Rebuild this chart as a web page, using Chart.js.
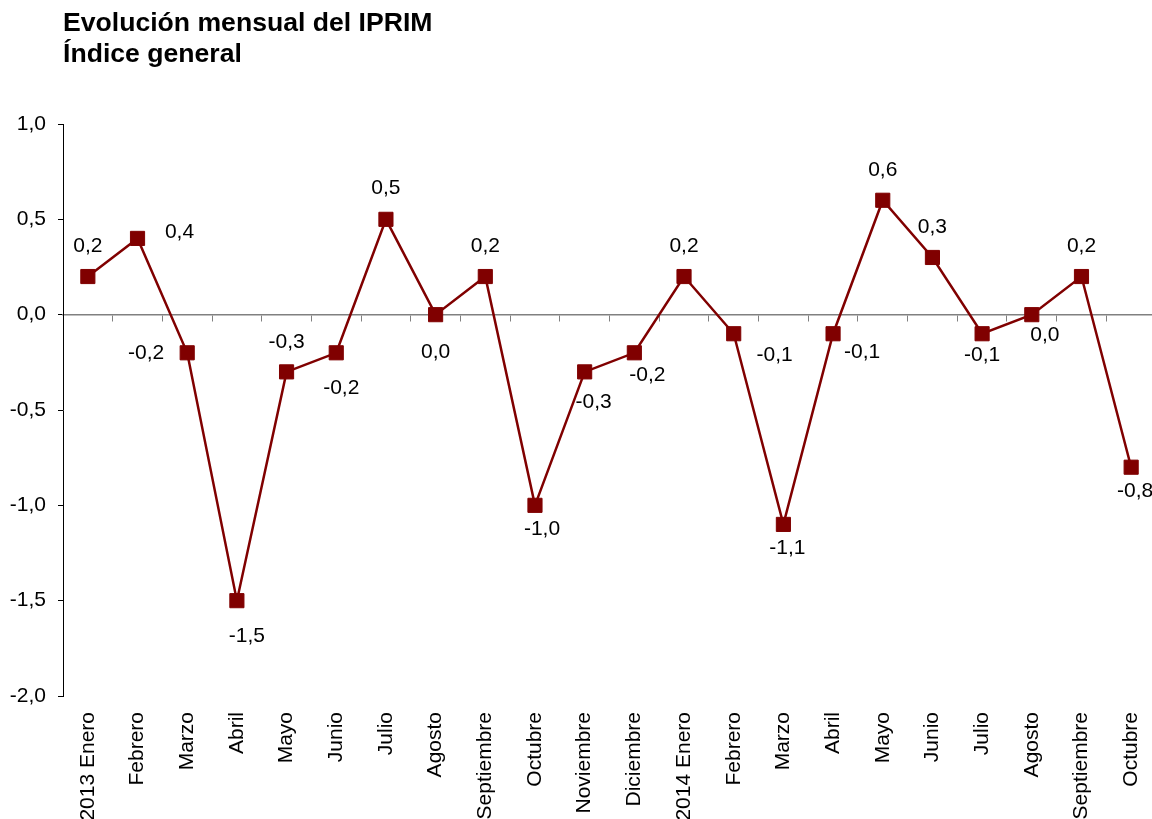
<!DOCTYPE html>
<html>
<head>
<meta charset="utf-8">
<script src="https://cdn.jsdelivr.net/npm/chart.js@4.4.0/dist/chart.umd.min.js"></script>
<style>
html,body{margin:0;padding:0;background:#fff;overflow:hidden;width:1152px;height:819px;}
canvas{display:block;}
</style>
</head>
<body>
<canvas id="c" width="1156" height="819"></canvas>
<script>
// ---- data ----
const categories = ['2013 Enero','Febrero','Marzo','Abril','Mayo','Junio','Julio','Agosto','Septiembre','Octubre','Noviembre','Diciembre','2014 Enero','Febrero','Marzo','Abril','Mayo','Junio','Julio','Agosto','Septiembre','Octubre'];
const values = [0.2,0.4,-0.2,-1.5,-0.3,-0.2,0.5,0.0,0.2,-1.0,-0.3,-0.2,0.2,-0.1,-1.1,-0.1,0.6,0.3,-0.1,0.0,0.2,-0.8];
const yMin = -2.0;
const yMax = 1.0;
const yStep = 0.5;
const titleLines = ['Evolución mensual del IPRIM','Índice general'];

// ---- label placement (style, not data) ----
const labelOffsets = [[0,-30],[42,-6],[-41,0],[10,36],[0,-30],[5,35],[0,-31],[0,38],[0,-30],[7,24],[9,30],[13,22],
                      [0,-30],[41,21],[4,24],[29,18],[0,-30],[0,-30],[0,21],[13,21],[0,-30],[4,24]];

const FONT = '"Liberation Sans", Arial, sans-serif';
const fmt = v => v.toFixed(1).replace('.', ',');

const pointLabels = {
  id: 'pointLabels',
  afterDatasetsDraw(chart) {
    const meta = chart.getDatasetMeta(0);
    const ctx = chart.ctx;
    ctx.save();
    ctx.font = '21px ' + FONT;
    ctx.fillStyle = '#000';
    ctx.textAlign = 'center';
    ctx.textBaseline = 'middle';
    meta.data.forEach((pt, i) => {
      const [dx, dy] = labelOffsets[i];
      ctx.fillText(fmt(values[i]), pt.x + dx, pt.y + dy);
    });
    ctx.restore();
  }
};

new Chart(document.getElementById('c'), {
  type: 'line',
  data: {
    labels: categories,
    datasets: [{
      data: values,
      borderColor: '#800000',
      borderWidth: 2.5,
      pointStyle: 'rect',
      pointRadius: 10,
      pointBackgroundColor: '#800000',
      pointBorderColor: '#800000',
      pointBorderWidth: 1,
      tension: 0,
      clip: false,
      xAxisID: 'x',
      yAxisID: 'y'
    }]
  },
  options: {
    responsive: false,
    animation: false,
    devicePixelRatio: 1,
    layout: { autoPadding: false, padding: { top: 0, left: 0, right: 0, bottom: 0 } },
    plugins: {
      legend: { display: false },
      tooltip: { enabled: false },
      title: {
        display: true,
        text: titleLines,
        align: 'start',
        fullSize: false,
        color: '#000',
        font: { family: FONT, size: 26.6, weight: 'bold', lineHeight: 31/26.6 },
        padding: { top: 8, bottom: 54 }
      }
    },
    scales: {
      x: {
        type: 'category',
        position: 'bottom',
        offset: true,
        grid: { display: false },
        border: { display: false },
        ticks: {
          autoSkip: false,
          minRotation: 90,
          maxRotation: 90,
          padding: 8,
          color: '#000',
          font: { family: FONT, size: 21 }
        },
        afterFit(s) { s.height = 123; s.paddingLeft = 0; s.paddingRight = 0; }
      },
      x2: {
        type: 'category',
        labels: categories,
        position: { y: 0 },
        offset: true,
        ticks: { display: false },
        grid: { offset: true, drawOnChartArea: false, drawTicks: true, tickLength: 6, color: '#808080', lineWidth: 1 },
        border: { display: true, color: '#808080', width: 1.5 },
        afterFit(s) { s.height = 0; s.paddingLeft = 0; s.paddingRight = 0; }
      },
      y: {
        type: 'linear',
        position: 'left',
        min: yMin,
        max: yMax,
        ticks: {
          stepSize: yStep,
          padding: 12,
          color: '#000',
          font: { family: FONT, size: 21 },
          callback: v => fmt(v)
        },
        grid: { drawOnChartArea: false, drawTicks: true, tickLength: 5, color: '#000' },
        border: { display: true, color: '#000', width: 1 },
        afterFit(s) { s.width = 63; }
      }
    }
  },
  plugins: [pointLabels]
});
</script>
</body>
</html>
